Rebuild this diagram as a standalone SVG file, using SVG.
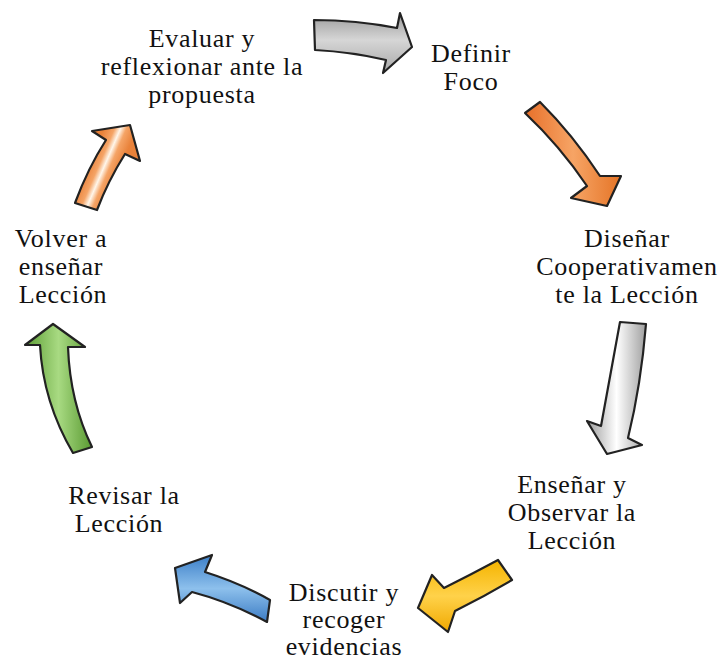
<svg xmlns="http://www.w3.org/2000/svg" width="724" height="662" viewBox="0 0 724 662">
<style>
text{font-family:"Liberation Serif","Times New Roman",serif;font-size:26px;fill:#111;text-anchor:middle;letter-spacing:0.7px}
.arr{stroke:#222;stroke-width:2.2;stroke-linejoin:round}
</style>
<defs>
<linearGradient id="gGray1" x1="0" y1="0" x2="0" y2="1"><stop offset="0" stop-color="#9a9a9a"/><stop offset="0.45" stop-color="#d6d6d6"/><stop offset="1" stop-color="#a8a8a8"/></linearGradient>
<linearGradient id="gOr1" x1="0" y1="0" x2="1" y2="0"><stop offset="0" stop-color="#e8702a"/><stop offset="0.5" stop-color="#f6a465"/><stop offset="1" stop-color="#e57426"/></linearGradient>
<linearGradient id="gGray2" x1="0" y1="0" x2="1" y2="0"><stop offset="0" stop-color="#9c9c9c"/><stop offset="0.5" stop-color="#ffffff"/><stop offset="1" stop-color="#a0a0a0"/></linearGradient>
<linearGradient id="gYel" x1="0" y1="0" x2="0" y2="1"><stop offset="0" stop-color="#f5b400"/><stop offset="0.5" stop-color="#ffd24a"/><stop offset="1" stop-color="#f0a800"/></linearGradient>
<linearGradient id="gBlue" x1="0" y1="0" x2="0" y2="1"><stop offset="0" stop-color="#3c7fc8"/><stop offset="0.5" stop-color="#8dc0ec"/><stop offset="1" stop-color="#3c7cc4"/></linearGradient>
<linearGradient id="gGreen" x1="0" y1="0" x2="1" y2="0"><stop offset="0" stop-color="#5d9e35"/><stop offset="0.5" stop-color="#a8da82"/><stop offset="1" stop-color="#5a9a32"/></linearGradient>
<linearGradient id="gOr2" gradientUnits="userSpaceOnUse" x1="84" y1="175" x2="112" y2="187"><stop offset="0" stop-color="#e9823a"/><stop offset="0.32" stop-color="#f5a466"/><stop offset="0.5" stop-color="#fff6ea"/><stop offset="0.68" stop-color="#f5a466"/><stop offset="1" stop-color="#e9823a"/></linearGradient>
</defs>

<g id="connectors">
<path id="a1" class="arr" fill="url(#gGray1)" d="M314,20 Q356,20 397,28 L400,13 L412,47 L383,73 L386,60 Q352,52 315,50 Z"/>
<path id="a2" class="arr" fill="url(#gOr1)" d="M525,113 L540,102 Q573,135 600,176 L621,176 L607,206 L571,198 L587,186 Q560,146 525,113 Z"/>
<path id="a3" class="arr" fill="url(#gGray2)" d="M620,322 L646,324 Q641,385 628,438 L642,445 L607,454 L587,421 L601,426 Q610,378 620,322 Z"/>
<path id="a4" class="arr" fill="url(#gYel)" d="M498,560 L512,580 Q485,596 455,611 L448,632 L418,608 L432,575 L444,588 Q472,574 498,560 Z"/>
<path id="a5" class="arr" fill="url(#gBlue)" d="M175,568 L212,555 L205,572 Q240,583 270,600 L267,622 Q230,602 192,592 L180,603 Z"/>
<path id="a6" class="arr" fill="url(#gGreen)" d="M53,324 L85,347 L68,347 Q70,402 92,447 L73,453 Q43,402 40,345 L25,345 Z"/>
<path id="a7" class="arr" fill="url(#gOr2)" d="M130,125 L140,161 L125,154 Q108,181 97,210 L75,203 Q88,168 106,140 L92,131 Z"/>
</g>

<g id="n1"><text x="202" y="47">Evaluar y</text><text x="202" y="75">reflexionar ante la</text><text x="202" y="103">propuesta</text></g>
<g id="n2"><text x="471" y="62">Definir</text><text x="471" y="90">Foco</text></g>
<g id="n3"><text x="627" y="247">Diseñar</text><text x="627" y="275">Cooperativamen</text><text x="627" y="303">te la Lección</text></g>
<g id="n4"><text x="572" y="493">Enseñar y</text><text x="572" y="521">Observar la</text><text x="572" y="549">Lección</text></g>
<g id="n5"><text x="344" y="601">Discutir y</text><text x="344" y="628">recoger</text><text x="344" y="655">evidencias</text></g>
<g id="n6"><text x="124" y="504">Revisar la</text><text x="119" y="532">Lección</text></g>
<g id="n7"><text x="61" y="247">Volver a</text><text x="61" y="275">enseñar</text><text x="63" y="303">Lección</text></g>
</svg>
